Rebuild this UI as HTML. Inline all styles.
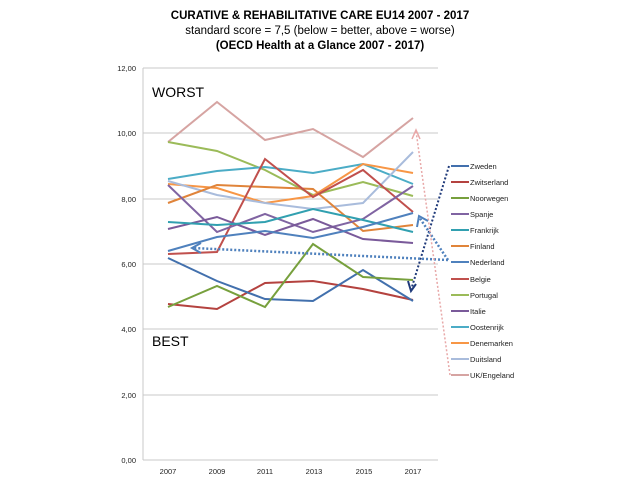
<!DOCTYPE html><html><head><style>body{margin:0;background:#fff}</style></head><body>
<svg width="640" height="480" xmlns="http://www.w3.org/2000/svg" font-family="Liberation Sans, sans-serif">
<rect width="640" height="480" fill="#fff"/>
<text x="320" y="19" text-anchor="middle" font-size="11.5" font-weight="bold">CURATIVE &amp; REHABILITATIVE CARE EU14 2007 - 2017</text>
<text x="320" y="34" text-anchor="middle" font-size="11.5">standard score = 7,5 (below = better, above  = worse)</text>
<text x="320" y="49" text-anchor="middle" font-size="11.5" font-weight="bold">(OECD Health  at a Glance 2007 - 2017)</text>
<g stroke="#c8c8c8" stroke-width="1">
<line x1="143" y1="68" x2="438" y2="68"/><line x1="143" y1="133" x2="438" y2="133"/><line x1="143" y1="199" x2="438" y2="199"/><line x1="143" y1="264" x2="438" y2="264"/><line x1="143" y1="329" x2="438" y2="329"/><line x1="143" y1="395" x2="438" y2="395"/><line x1="143" y1="460" x2="438" y2="460"/><line x1="143" y1="68" x2="143" y2="460"/>
</g>
<g font-size="7.5" text-anchor="end" fill="#222">
<text x="136" y="71">12,00</text><text x="136" y="136">10,00</text><text x="136" y="202">8,00</text><text x="136" y="267">6,00</text><text x="136" y="332">4,00</text><text x="136" y="398">2,00</text><text x="136" y="463">0,00</text>
</g>
<g font-size="7.5" text-anchor="middle" fill="#222">
<text x="168" y="474">2007</text><text x="217" y="474">2009</text><text x="265" y="474">2011</text><text x="314" y="474">2013</text><text x="364" y="474">2015</text><text x="413" y="474">2017</text>
</g>
<text x="152" y="97" font-size="14">WORST</text>
<text x="152" y="346" font-size="14">BEST</text>
<g fill="none" stroke-width="2">
<polyline stroke="#d6a4a2" points="168,142 217,102 265,140 313,129 363,157 413,118"/>
<polyline stroke="#9bbb59" points="168,142 217,151 265,170 313,195 363,182 413,196"/>
<polyline stroke="#4bacc6" points="168,179 217,171 265,167 313,173 363,164 413,184"/>
<polyline stroke="#f79646" points="168,184 217,188 265,203 313,196 363,164 413,173"/>
<polyline stroke="#a9bcdc" points="168,181 217,195 265,203 313,209 363,203 413,152"/>
<polyline stroke="#e0843a" points="168,203 217,185 265,187 313,189 363,231 413,225"/>
<polyline stroke="#c0504d" points="168,254 217,252 265,159 313,197 363,170 413,212"/>
<polyline stroke="#b4423f" points="168,304 217,309 265,283 313,281 363,289 413,300"/>
<polyline stroke="#8064a2" points="168,185 217,232 265,214 313,232 363,219 413,186"/>
<polyline stroke="#7a5a9a" points="168,229 217,217 265,235 313,219 363,239 413,243"/>
<polyline stroke="#31a0b0" points="168,222 217,225 265,222 313,209 363,220 413,232"/>
<polyline stroke="#4f81bd" points="168,251 217,237 265,231 313,238 363,227 413,213"/>
<polyline stroke="#4270ad" points="168,258 217,281 265,299 313,301 363,270 413,301"/>
<polyline stroke="#77a03d" points="168,307 217,286 265,307 313,244 363,277 413,280"/>
</g>
<g fill="none" stroke-width="2" stroke-dasharray="2,2">
<polyline stroke="#1f3a7a" points="449,166 411,290"/>
<polyline stroke="#4f81bd" stroke-width="2.5" points="448,260 193,248"/>
<polyline stroke="#4f81bd" stroke-width="2.5" points="448,260 419,217"/>
<polyline stroke="#e8a8a8" stroke-width="1.5" points="450,375 416,131"/>
</g>
<g fill="none" stroke-width="2">
<polyline stroke="#1f3a7a" points="408,281 411,291 416,284"/>
<polyline stroke="#4f81bd" points="201,243 192,248 201,253"/>
<polyline stroke="#4f81bd" points="417,227 419,216 428,221"/>
<polyline stroke="#e8a8a8" stroke-width="1.5" points="412,139 416,130 420,139"/>
</g>
<g stroke-width="2">
<line x1="451" y1="166" x2="469" y2="166" stroke="#4270ad"/>
<line x1="451" y1="182" x2="469" y2="182" stroke="#b4423f"/>
<line x1="451" y1="198" x2="469" y2="198" stroke="#77a03d"/>
<line x1="451" y1="214" x2="469" y2="214" stroke="#8064a2"/>
<line x1="451" y1="230" x2="469" y2="230" stroke="#31a0b0"/>
<line x1="451" y1="246" x2="469" y2="246" stroke="#e0843a"/>
<line x1="451" y1="262" x2="469" y2="262" stroke="#4f81bd"/>
<line x1="451" y1="279" x2="469" y2="279" stroke="#c0504d"/>
<line x1="451" y1="295" x2="469" y2="295" stroke="#9bbb59"/>
<line x1="451" y1="311" x2="469" y2="311" stroke="#7a5a9a"/>
<line x1="451" y1="327" x2="469" y2="327" stroke="#4bacc6"/>
<line x1="451" y1="343" x2="469" y2="343" stroke="#f79646"/>
<line x1="451" y1="359" x2="469" y2="359" stroke="#a9bcdc"/>
<line x1="451" y1="375" x2="469" y2="375" stroke="#d6a4a2"/>
</g>
<g font-size="7.5" fill="#222">
<text x="470" y="169">Zweden</text><text x="470" y="185">Zwitserland</text><text x="470" y="201">Noorwegen</text><text x="470" y="217">Spanje</text><text x="470" y="233">Frankrijk</text><text x="470" y="249">Finland</text><text x="470" y="265">Nederland</text><text x="470" y="282">Belgie</text><text x="470" y="298">Portugal</text><text x="470" y="314">Italie</text><text x="470" y="330">Oostenrijk</text><text x="470" y="346">Denemarken</text><text x="470" y="362">Duitsland</text><text x="470" y="378">UK/Engeland</text>
</g>
</svg>
</body></html>
